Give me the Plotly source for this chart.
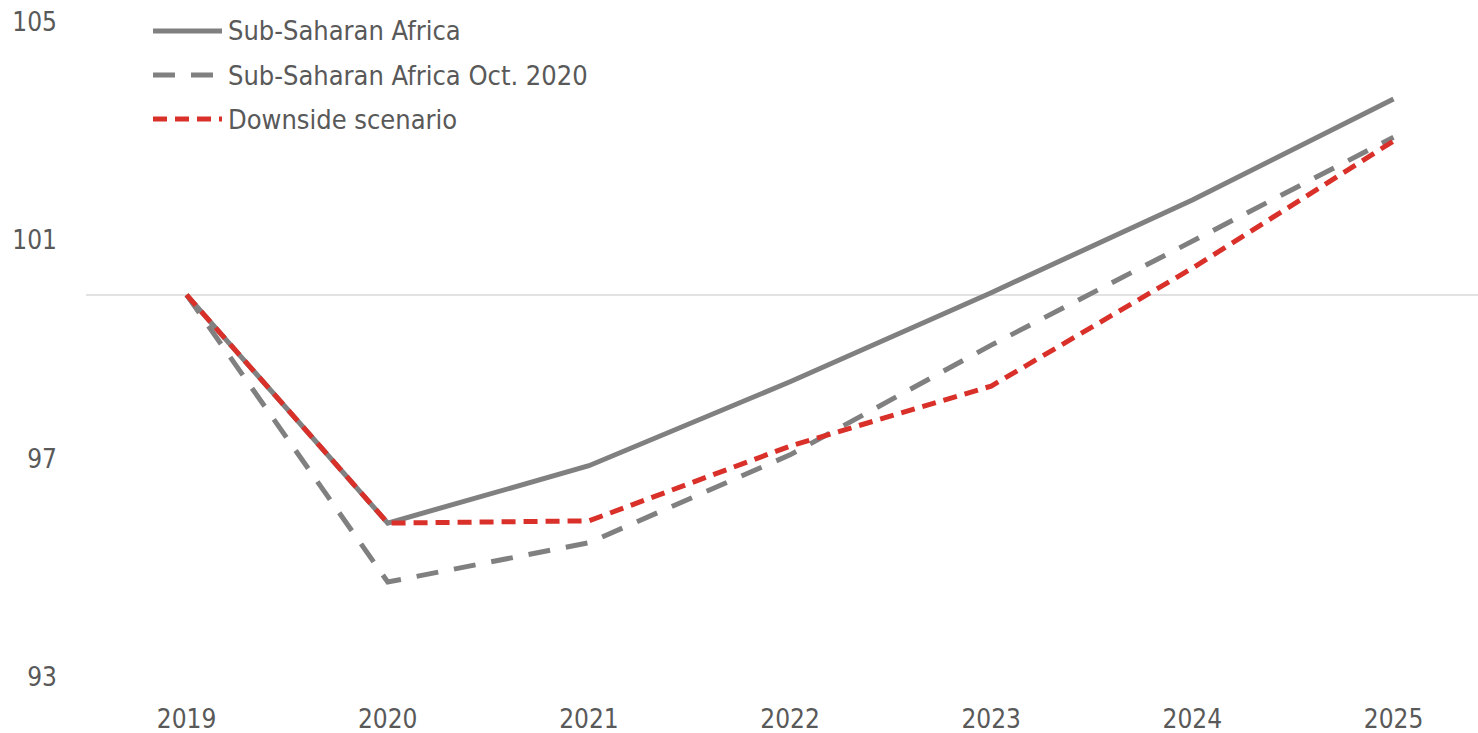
import plotly.graph_objects as go

# Real GDP index, 2019 = 100
years = [2019, 2020, 2021, 2022, 2023, 2024, 2025]
ssa_current = [100.0, 95.82, 96.87, 98.41, 100.04, 101.74, 103.59]
ssa_oct2020 = [100.0, 94.74, 95.46, 97.07, 99.08, 100.99, 102.89]
downside = [100.0, 95.82, 95.86, 97.23, 98.33, 100.49, 102.82]

series_names = ["Sub-Saharan Africa", "Sub-Saharan Africa Oct. 2020", "Downside scenario"]
y_ticks = [93, 97, 101, 105]

GRAY = "#808080"
RED = "#D9302A"
TEXT = "#595959"
FONT = "Liberation Sans Narrow, Arial Narrow, DejaVu Sans Condensed, sans-serif"

W, H = 1478, 733
ML, MR, MT, MB = 86, 0, 22, 56
PW, PH = W - ML - MR, H - MT - MB

styles = [
    dict(color=GRAY, width=5, dash="solid"),
    dict(color=GRAY, width=5, dash="22px,16px"),
    dict(color=RED, width=5, dash="14px,8px"),
]

fig = go.Figure()
for name, vals, st in zip(series_names, [ssa_current, ssa_oct2020, downside], styles):
    fig.add_trace(go.Scatter(
        x=years, y=vals, name=name, mode="lines",
        line=dict(color=st["color"], width=st["width"], dash=st["dash"]),
        showlegend=False,
    ))

# reference line at 100
fig.add_shape(type="line", xref="paper", x0=0, x1=1, yref="y", y0=100, y1=100,
              line=dict(color="#d9d9d9", width=1.5), layer="below")

# legend drawn in the top-left corner
def px_x(px):
    return (px - ML) / PW

def px_y(py):
    return 1 - (py - MT) / PH

rows_y = [31, 75, 119]
for name, st, ry in zip(series_names, styles, rows_y):
    fig.add_shape(type="line", xref="paper", yref="paper",
                  x0=px_x(153), x1=px_x(222), y0=px_y(ry), y1=px_y(ry),
                  line=dict(color=st["color"], width=st["width"], dash=st["dash"]))
    fig.add_annotation(xref="paper", yref="paper", x=px_x(229), y=px_y(ry),
                       text=name, showarrow=False, xanchor="left", yanchor="middle",
                       xshift=-3,
                       font=dict(family=FONT, size=27, color=TEXT))

fig.update_layout(
    width=W, height=H,
    margin=dict(l=ML, r=MR, t=MT, b=MB),
    paper_bgcolor="white", plot_bgcolor="white",
    font=dict(family=FONT, size=26, color=TEXT),
    xaxis=dict(
        range=[2018.5, 2025.42], tickvals=years, ticktext=[str(y) for y in years],
        showgrid=False, zeroline=False, showline=False, ticks="",
        ticklabelstandoff=24, automargin=False,
    ),
    yaxis=dict(
        range=[93, 105], tickvals=y_ticks, ticktext=[str(v) for v in y_ticks],
        showgrid=False, zeroline=False, showline=False, ticks="",
        ticklabelstandoff=28, automargin=False,
    ),
)

fig.write_html("out.html")
